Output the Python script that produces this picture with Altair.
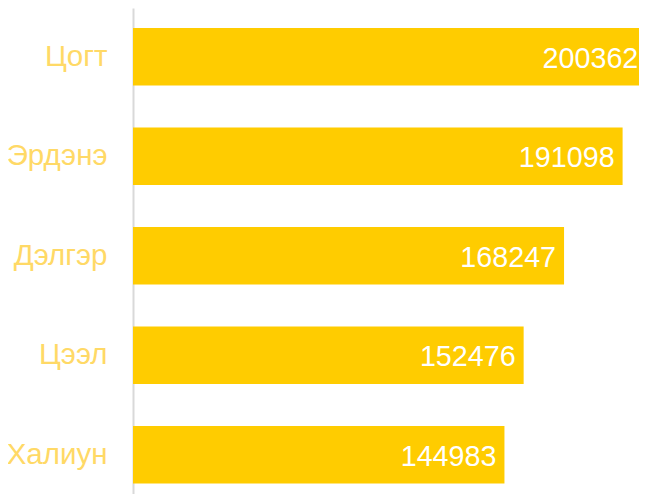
import altair as alt
import pandas as pd

names = ["Цогт", "Эрдэнэ", "Дэлгэр", "Цээл", "Халиун"]
values = [200362, 191098, 168247, 152476, 144983]

df = pd.DataFrame({"name": names, "value": values})

y = alt.Y(
    "name:N",
    sort=names,
    title=None,
    scale=alt.Scale(paddingInner=0.422, paddingOuter=0.153, align=0.656),
    axis=alt.Axis(
        labelFont="Liberation Sans",
        labelFontSize=29.5,
        labelColor="#FFD966",
        labelPadding=26,
        ticks=False,
        domainColor="#D9D9D9",
        domainWidth=2,
        grid=False,
    ),
)
x = alt.X(
    "value:Q",
    scale=alt.Scale(domain=[0, 197500], nice=False),
    axis=None,
)

bars = alt.Chart(df).mark_bar(color="#FFCC00").encode(x=x, y=y)
text = alt.Chart(df).mark_text(
    align="right", baseline="middle", dx=-8, dy=2, color="white",
    font="Liberation Sans", fontSize=28.7,
).encode(x=x, y=y, text="value:Q")

chart = (bars + text).properties(
    width=506,
    height=486,
    autosize=alt.AutoSizeParams(type="none"),
    padding={"left": 125, "top": 0, "right": 0, "bottom": 0},
).configure_view(strokeWidth=0)

chart.save("out.html", embed_options={"renderer": "svg", "actions": False})
